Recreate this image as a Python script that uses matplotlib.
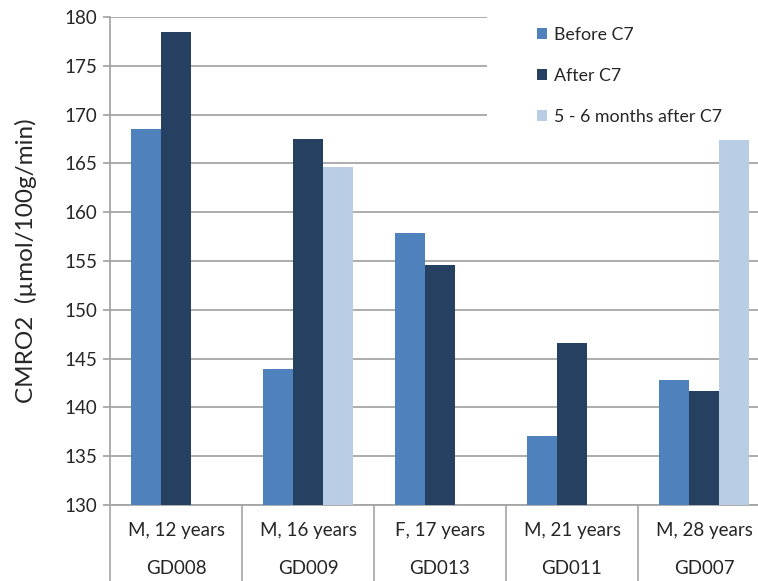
import numpy as np
import matplotlib
matplotlib.use('Agg')
import matplotlib.pyplot as plt
import matplotlib.transforms as mtransforms
from matplotlib.patches import Rectangle

# datos
sujetos = ['GD008', 'GD009', 'GD013', 'GD011', 'GD007']
descripcion = ['M, 12 years', 'M, 16 years', 'F, 17 years', 'M, 21 years', 'M, 28 years']
antes = [168.5, 143.9, 157.9, 137.1, 142.8]
despues = [178.5, 167.5, 154.6, 146.6, 141.7]
meses = [np.nan, 164.6, np.nan, np.nan, 167.4]

series = ['Before C7', 'After C7', '5 - 6 months after C7']
colores = ['#4F81BD', '#254061', '#B9CDE5']

plt.rcParams['font.family'] = ['Lato', 'DejaVu Sans']

fig = plt.figure(figsize=(7.58, 5.81), dpi=100)
ax = fig.add_axes([110 / 758, 1 - 505 / 581, 660 / 758, 488 / 581])

x = np.arange(len(sujetos))
ancho = 0.225
for i, (vals, col, nom) in enumerate(zip([antes, despues, meses], colores, series)):
    ax.bar(x + (i - 1) * ancho, np.array(vals) - 130, width=ancho, bottom=130,
           color=col, label=nom, zorder=3)

ax.set_xlim(-0.5, len(sujetos) - 0.5)
ax.set_ylim(130, 180)
ax.set_yticks(np.arange(130, 181, 5))
ax.tick_params(axis='y', labelsize=13.5, colors='#A0A0A0', labelcolor='#262626',
               length=5, width=1.2, pad=4)
ax.set_xticks([])
ax.grid(axis='y', color='#A6A6A6', linewidth=1.3)
for s in ['top', 'right']:
    ax.spines[s].set_visible(False)
ax.spines['left'].set_color('#A0A0A0')
ax.spines['left'].set_linewidth(1.2)
ax.spines['bottom'].set_color('#A6A6A6')
ax.spines['bottom'].set_linewidth(1.3)

ax.set_ylabel('CMRO2  (µmol/100g/min)', fontsize=17.5, color='#262626', labelpad=20)

# tabla de categorias debajo del eje
trans = mtransforms.blended_transform_factory(ax.transData, ax.transAxes)
for b in np.arange(-0.5, len(sujetos), 1.0):
    ax.plot([b, b], [0, -0.2], transform=trans, color='#A6A6A6', linewidth=1.2,
            clip_on=False)
for i in range(len(sujetos)):
    ax.text(x[i], -0.052, descripcion[i], transform=trans, ha='center', va='center',
            fontsize=13.5, color='#262626')
    ax.text(x[i], -0.13, sujetos[i], transform=trans, ha='center', va='center',
            fontsize=13.5, color='#262626')

# fondo blanco de la leyenda (tapa la cuadricula)
ax.add_patch(Rectangle((0.571, 0.75), 0.5, 0.3, transform=ax.transAxes,
                       facecolor='white', edgecolor='none', zorder=2.5, clip_on=False))

leg = ax.legend(loc='upper left', bbox_to_anchor=(537 / 758, 1 - 27 / 581),
                bbox_transform=fig.transFigure, frameon=False,
                fontsize=12.8, handlelength=0.55, handleheight=0.55, handletextpad=0.4,
                labelspacing=1.4, borderpad=0, borderaxespad=0)
leg.set_zorder(5)
for t in leg.get_texts():
    t.set_color('#262626')

fig.savefig('out.png', dpi=100)
